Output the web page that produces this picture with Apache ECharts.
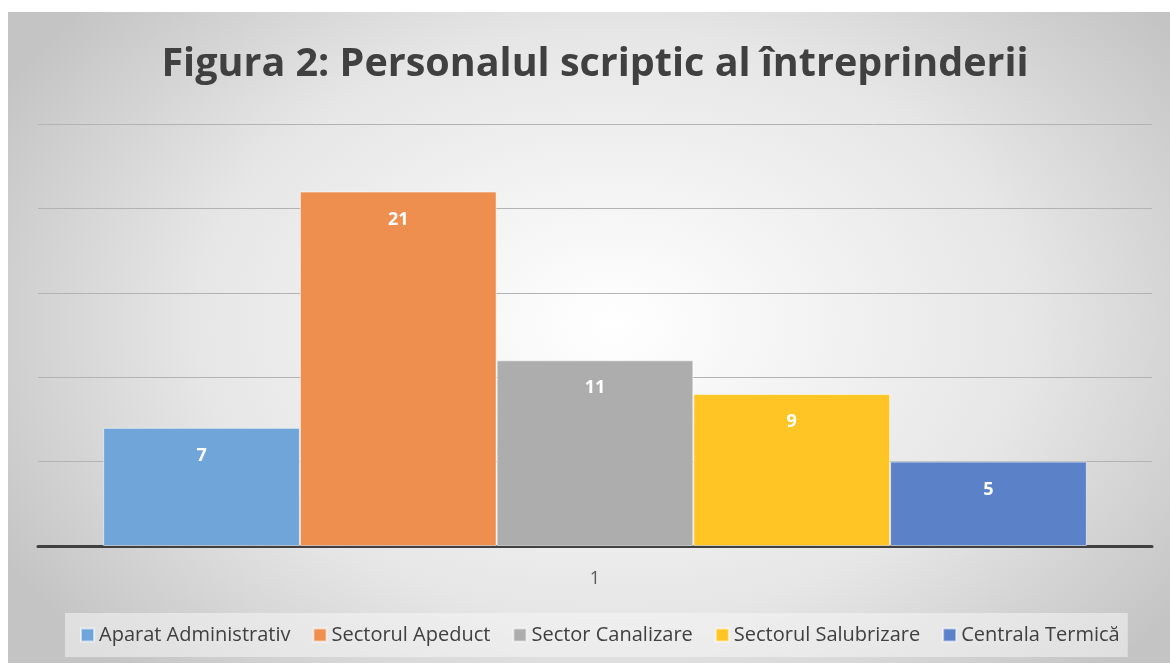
<!DOCTYPE html>
<html>
<head>
<meta charset="utf-8">
<script src="https://cdn.jsdelivr.net/npm/echarts@6/dist/echarts.min.js"></script>
<style>
body { margin: 0; background: #ffffff; }
#chart {
	position: absolute; left: 8px; top: 12px; width: 1162px; height: 651px;
	background: radial-gradient(ellipse 60% 75% at 52% 48%, #ffffff 0%, #e6e6e6 60%, #c4c4c4 100%);
}
</style>
</head>
<body>
<div id="chart"></div>
<script>
// date
const categories = ['1'];
const seriesNames = ['Aparat Administrativ', 'Sectorul Apeduct', 'Sector Canalizare', 'Sectorul Salubrizare', 'Centrala Termică'];
const values = [7, 21, 11, 9, 5];
const colors = ['#6fa5d9', '#ef8f4f', '#adadad', '#fec524', '#5b81c9'];

const myChart = echarts.init(document.getElementById('chart'));

let series = seriesNames.map(function(name, i) {
	return {
		name: name,
		type: 'bar',
		data: [values[i]],
		barGap: '0%',
		barCategoryGap: '11.7%',
		itemStyle: {
			color: colors[i],
			borderColor: 'rgba(255,255,255,0.55)',
			borderWidth: 1
		},
		label: {
			show: true,
			position: 'insideTop',
			distance: 19,
			color: '#ffffff',
			fontSize: 18,
			fontWeight: 'bold',
			fontFamily: 'Open Sans'
		}
	};
});

const option = {
	backgroundColor: 'transparent',
	color: colors,
	title: {
		text: 'Figura 2: Personalul scriptic al întreprinderii',
		left: 582,
		textAlign: 'center',
		top: 28,
		textStyle: {
			fontFamily: 'Open Sans',
			fontSize: 39.5,
			fontWeight: 'bold',
			color: '#404040'
		}
	},
	legend: {
		bottom: 6,
		left: 57,
		itemWidth: 13,
		itemHeight: 13,
		itemGap: 22,
		padding: [12, 8, 12, 15],
		backgroundColor: 'rgba(245,245,245,0.55)',
		icon: 'rect',
		textStyle: { fontFamily: 'Open Sans', fontSize: 20, color: '#404040' },
		data: seriesNames
	},
	grid: { left: 30, right: 18, top: 112, bottom: 117 },
	xAxis: {
		type: 'category',
		data: categories,
		axisLine: { lineStyle: { color: '#404040', width: 3 } },
		axisTick: { show: false },
		axisLabel: { color: '#595959', fontSize: 18, margin: 24, fontFamily: 'Open Sans' }
	},
	yAxis: {
		type: 'value',
		min: 0,
		max: 25,
		interval: 5,
		axisLabel: { show: false },
		axisLine: { show: false },
		axisTick: { show: false },
		splitLine: { lineStyle: { color: '#b3b3b3', width: 1 } }
	},
	series: series
};

myChart.setOption(option);
</script>
</body>
</html>
